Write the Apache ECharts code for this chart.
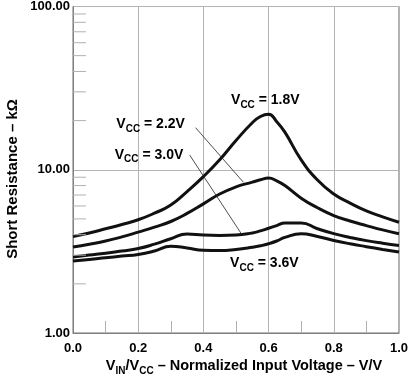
<!DOCTYPE html>
<html><head><meta charset="utf-8">
<script src="https://cdn.jsdelivr.net/npm/echarts@6/dist/echarts.min.js"></script>
<style>html,body{margin:0;padding:0;background:#fff}#c{width:411px;height:377px}</style>
</head><body><div id="c"></div>
<script>
// ---- data ----
const xValues = [0, 0.05, 0.1, 0.15, 0.2, 0.25, 0.3, 0.35, 0.4, 0.45, 0.5, 0.55, 0.575, 0.6, 0.625, 0.65, 0.7, 0.75, 0.8, 0.85, 0.9, 0.95, 1.0];
const vcc18 = [3.90, 4.10, 4.35, 4.62, 4.94, 5.42, 6.08, 7.35, 9.07, 11.5, 15.1, 19.4, 21.2, 21.9, 19.7, 17.0, 11.5, 8.65, 7.1, 6.25, 5.6, 5.15, 4.77];
const vcc22 = [3.36, 3.50, 3.66, 3.88, 4.15, 4.45, 4.82, 5.40, 6.18, 7.1, 7.85, 8.4, 8.68, 8.9, 8.55, 8.0, 6.7, 5.85, 5.24, 4.85, 4.55, 4.28, 4.06];
const vcc30 = [2.92, 3.00, 3.08, 3.18, 3.29, 3.50, 3.78, 4.04, 3.98, 3.96, 3.98, 4.10, 4.22, 4.38, 4.55, 4.72, 4.72, 4.35, 4.06, 3.85, 3.68, 3.55, 3.44];
const vcc36 = [2.76, 2.82, 2.89, 2.96, 3.03, 3.18, 3.40, 3.32, 3.21, 3.20, 3.25, 3.35, 3.42, 3.52, 3.66, 3.85, 4.06, 3.90, 3.69, 3.52, 3.38, 3.25, 3.13];
const xTicks = [0, 0.2, 0.4, 0.6, 0.8, 1.0];
const yTicks = [1, 10, 100];
const yMinorTicks = [2, 3, 4, 5, 6, 7, 8, 9, 20, 30, 40, 50, 60, 70, 80, 90];
const curveLabels = ['1.8V', '2.2V', '3.0V', '3.6V'];
// annotation anchors in data space [x, y]
const labelAnchors = [[0.590, 26.4], [0.133, 18.8], [0.128, 12.2], [0.482, 2.64]];
const labelAlign = ['center', 'left', 'left', 'left'];
const leaders = [[[0.376, 18.1], [0.523, 8.37]], [[0.358, 12.3], [0.518, 4.01]]];

const FONT = '"Liberation Sans", Arial, sans-serif';
const chart = echarts.init(document.getElementById('c'), null, {renderer: 'canvas'});
const curves = [vcc18, vcc22, vcc30, vcc36];
const GRID = {left: 73, right: 9, top: 5, bottom: 44};

chart.setOption({
  animation: false,
  backgroundColor: '#fff',
  grid: {left: GRID.left, right: GRID.right, top: GRID.top, bottom: GRID.bottom, show: true, borderColor: '#707070', borderWidth: 1},
  xAxis: {
    type: 'value', min: 0, max: 1, interval: 0.2,
    axisLine: {show: true, lineStyle: {color: '#808080', width: 1}},
    axisTick: {show: false, inside: true},
    minorTick: {show: true, splitNumber: 2, length: 12, lineStyle: {color: '#b0b0b0'}},
    splitLine: {show: true, lineStyle: {color: '#b4b4b4', width: 1}},
    axisLabel: {color: '#000', fontFamily: FONT, fontWeight: 'bold', fontSize: 13, margin: 9,
      formatter: v => v.toFixed(1)}
  },
  yAxis: {
    type: 'log', min: 1, max: 100, logBase: 10,
    axisLine: {show: true, lineStyle: {color: '#808080', width: 1}},
    axisTick: {show: false},
    splitLine: {show: true, lineStyle: {color: '#b4b4b4', width: 1}},
    axisLabel: {color: '#000', fontFamily: FONT, fontWeight: 'bold', fontSize: 13, margin: 3,
      formatter: v => Number(v).toFixed(2)}
  },
  series: curves.map(arr => ({
    type: 'line', smooth: 0.5, symbol: 'none',
    lineStyle: {color: '#111', width: 3},
    data: xValues.map((x, i) => [x, arr[i]])
  }))
});

function px(p) { return chart.convertToPixel({gridIndex: 0}, p); }
const gfx = [];
// minor y ticks
const x0 = px([0, 1])[0];
yMinorTicks.forEach(v => {
  const y = px([0, v])[1];
  gfx.push({type: 'line', shape: {x1: x0, y1: y, x2: x0 + 13, y2: y}, style: {stroke: '#b0b0b0', lineWidth: 1}, z: 5});
});
// leader lines
leaders.forEach(l => {
  const a = px(l[0]), b = px(l[1]);
  gfx.push({type: 'line', shape: {x1: a[0], y1: a[1], x2: b[0], y2: b[1]}, style: {stroke: '#222', lineWidth: 0.8}, z: 10});
});
const rich = {
  v: {fontFamily: FONT, fontWeight: 'bold', fontSize: 14, fill: '#000', lineHeight: 16, verticalAlign: 'top'},
  s: {fontFamily: FONT, fontWeight: 'bold', fontSize: 10, fill: '#000', lineHeight: 10, verticalAlign: 'top', padding: [7, 0, 0, 0]}
};
curveLabels.forEach((t, i) => {
  const p = px(labelAnchors[i]);
  gfx.push({type: 'text', x: p[0], y: p[1], z: 20,
    style: {text: '{v|V}{s|CC}{v| = ' + t + '}', rich: rich, align: labelAlign[i], verticalAlign: 'middle'}});
});
// axis titles
const rich2 = {
  v: {fontFamily: FONT, fontWeight: 'bold', fontSize: 14.5, fill: '#000', lineHeight: 16, verticalAlign: 'top'},
  s: {fontFamily: FONT, fontWeight: 'bold', fontSize: 10, fill: '#000', lineHeight: 10, verticalAlign: 'top', padding: [8, 0, 0, 0]}
};
gfx.push({type: 'text', x: 244, y: 366, z: 20,
  style: {text: '{v|V}{s|IN}{v|/V}{s|CC}{v| – Normalized Input Voltage – V/V}', rich: rich2, align: 'center', verticalAlign: 'middle'}});
gfx.push({type: 'text', x: 13, y: 179, rotation: Math.PI / 2, z: 20,
  style: {text: 'Short Resistance – kΩ', fontFamily: FONT, fontWeight: 'bold', fontSize: 15, fill: '#000', align: 'center', verticalAlign: 'middle'}});
chart.setOption({graphic: gfx});
</script>
</body></html>
